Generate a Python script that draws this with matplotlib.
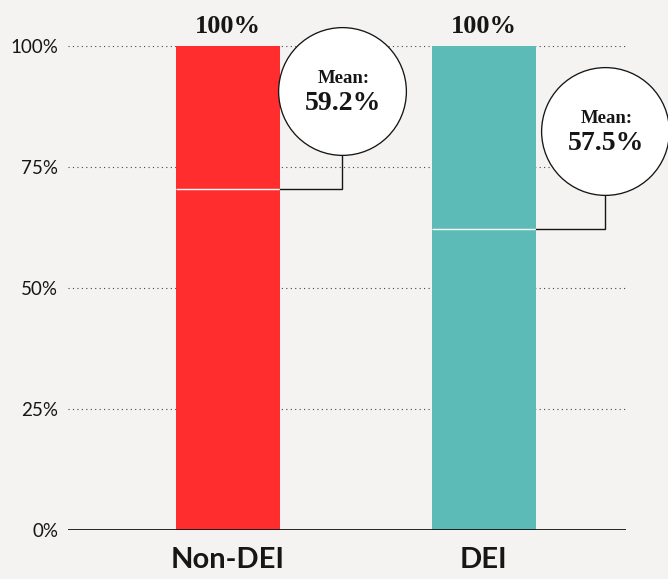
import matplotlib
matplotlib.use("Agg")
import matplotlib.pyplot as plt

# Data
groups = ["Non-DEI", "DEI"]
shares = [100, 100]
mean_pct = [59.2, 57.5]
mean_marks = [70.5, 62.2]
bar_colors = ["#ff2d2e", "#5cbbb7"]
yticks = [0, 25, 50, 75, 100]

# Styling / layout
BG = "#f4f3f1"
INK = "#161616"
SERIF = "Liberation Serif"
SANS = "Lato"
bar_w = 0.406
callout_dx = [0.445, 0.473]      # horizontal offset of each bubble from its bar centre
callout_y = [90.7, 82.5]         # bubble centre height (axis units)

fig = plt.figure(figsize=(6.68, 5.79), dpi=100, facecolor=BG)
ax = fig.add_axes([0.1018, 0.0838, 0.8352, 0.8368])
ax.set_facecolor(BG)

xpos = list(range(len(groups)))
ax.bar(xpos, shares, width=bar_w, color=bar_colors, zorder=2)

ax.set_xlim(-0.625, 1.555)
ax.set_ylim(0, 100)
ax.set_yticks(yticks)
ax.set_yticklabels([f"{t}%" for t in yticks], fontfamily=SANS, fontsize=13.5, color=INK)
ax.yaxis.grid(True, linestyle=(0, (1, 3)), color="#444444", linewidth=0.8, zorder=1)
ax.set_axisbelow(True)
ax.axhline(0, color=INK, linewidth=1.3, zorder=3)

ax.set_xticks(xpos)
ax.set_xticklabels(groups, fontfamily=SANS, fontweight="bold", fontsize=21, color=INK)
ax.tick_params(axis="both", length=0)
ax.tick_params(axis="y", pad=7)
ax.tick_params(axis="x", pad=12)
for s in ax.spines.values():
    s.set_visible(False)

for i, (share, mean, mark) in enumerate(zip(shares, mean_pct, mean_marks)):
    # total label on top of the bar
    ax.annotate(f"{share:.0f}%", (i, share), xytext=(0, 9.1), textcoords="offset points",
                ha="center", va="baseline", fontfamily=SERIF, fontweight="bold",
                fontsize=19, color=INK, annotation_clip=False)

    # white mark across the bar
    ax.hlines(mark, i - bar_w / 2, i + bar_w / 2, color="white", linewidth=1.0, zorder=3)

    # elbow connector from the bar edge up to the bubble
    cx, cy = i + callout_dx[i], callout_y[i]
    ax.plot([i + bar_w / 2, cx, cx], [mark, mark, cy], color=INK, linewidth=1.0,
            zorder=4, clip_on=False, solid_joinstyle="miter")

    # bubble
    ax.plot([cx], [cy], marker="o", markersize=92, markerfacecolor="white",
            markeredgecolor=INK, markeredgewidth=0.95, zorder=5, clip_on=False)
    ax.annotate("Mean:", (cx, cy), xytext=(1, 5.5), textcoords="offset points",
                ha="center", va="baseline", fontfamily=SERIF, fontweight="bold",
                fontsize=13.5, color=INK, zorder=6, annotation_clip=False)
    ax.annotate(f"{mean:.1f}%", (cx, cy), xytext=(1, -13.7), textcoords="offset points",
                ha="center", va="baseline", fontfamily=SERIF, fontweight="bold",
                fontsize=20, color=INK, zorder=6, annotation_clip=False)

fig.savefig("out.png", dpi=100, facecolor=BG)
